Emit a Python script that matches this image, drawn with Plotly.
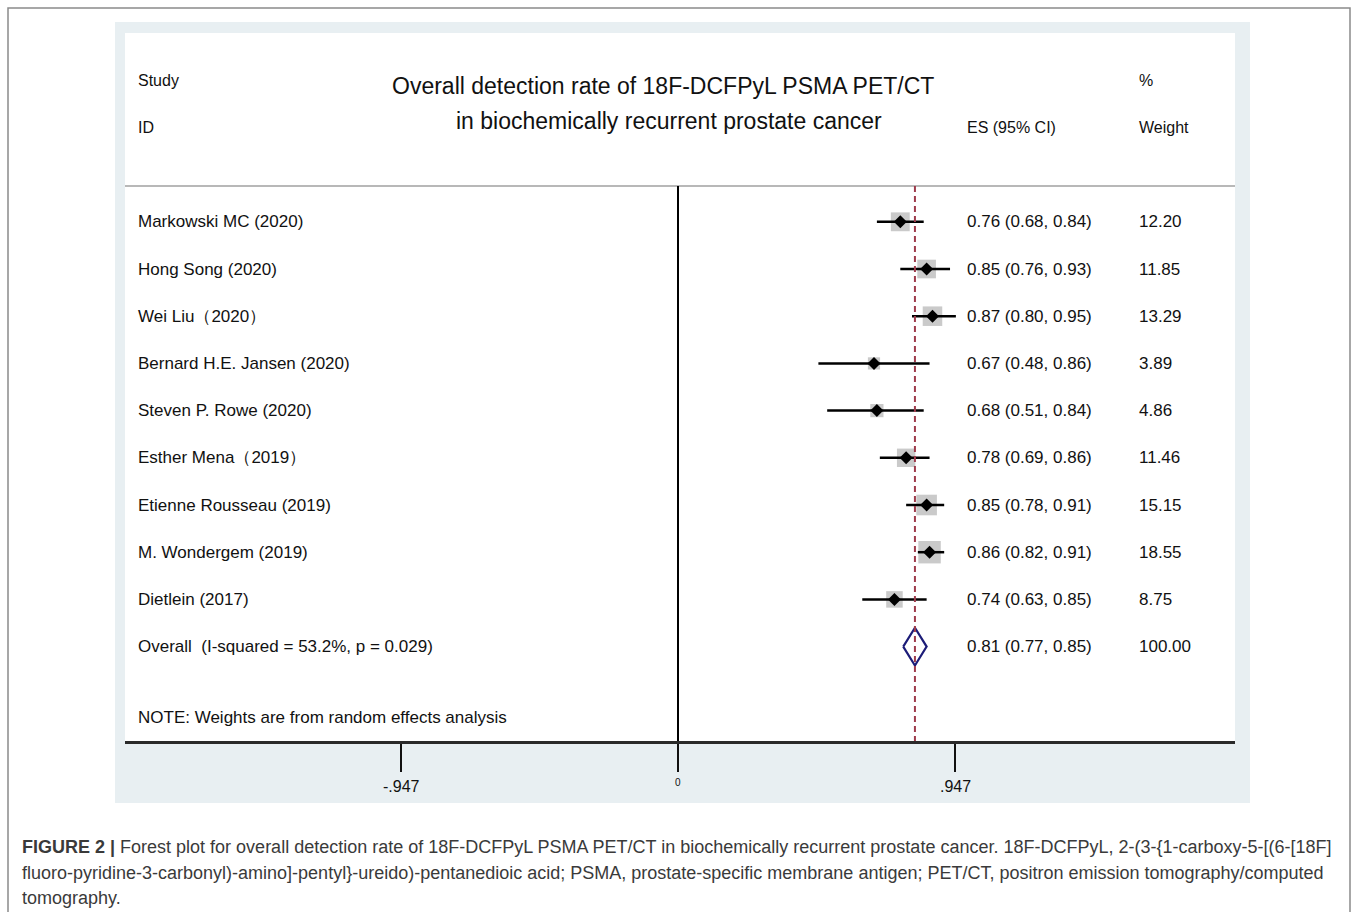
import numpy as np
import plotly.graph_objects as go

studies = ["Markowski MC (2020)", "Hong Song (2020)", "Wei Liu（2020）",
           "Bernard H.E. Jansen (2020)", "Steven P. Rowe (2020)", "Esther Mena（2019）",
           "Etienne Rousseau (2019)", "M. Wondergem (2019)", "Dietlein (2017)"]
es = [0.76, 0.85, 0.87, 0.67, 0.68, 0.78, 0.85, 0.86, 0.74]
lo = [0.68, 0.76, 0.80, 0.48, 0.51, 0.69, 0.78, 0.82, 0.63]
hi = [0.84, 0.93, 0.95, 0.86, 0.84, 0.86, 0.91, 0.91, 0.85]
weights = [12.20, 11.85, 13.29, 3.89, 4.86, 11.46, 15.15, 18.55, 8.75]
overall_label = "Overall\u00a0\u00a0(I-squared = 53.2%, p = 0.029)"
overall_es, overall_lo, overall_hi, overall_w = 0.81, 0.77, 0.85, 100.00
tick_vals = [-0.947, 0, 0.947]
tick_text = ["-.947", "0", ".947"]

W, H = 1358, 912
FONT = "Liberation Sans, Arial, sans-serif"

def px(x):
    return x / W

def py(y):
    return (H - y) / H

n = len(studies)
rows = [-i for i in range(n)]
overall_row = -n

es_a = np.array(es)
err_p = np.array(hi) - es_a
err_m = es_a - np.array(lo)
sizes = [3.5 + 4.4 * np.sqrt(w) for w in weights]

fig = go.Figure()
fig.add_trace(go.Scatter(x=es, y=rows, mode="markers",
                         marker=dict(symbol="square", size=sizes, color="#b3b3b3", line=dict(width=0)),
                         hoverinfo="skip", showlegend=False))
fig.add_trace(go.Scatter(x=es, y=rows, mode="markers",
                         marker=dict(symbol="diamond", size=10, color="black"),
                         error_x=dict(type="data", symmetric=False, array=err_p, arrayminus=err_m,
                                      width=0, thickness=2.5, color="black"),
                         showlegend=False))
dh = 0.4
fig.add_trace(go.Scatter(x=[overall_lo, overall_es, overall_hi, overall_es, overall_lo],
                         y=[overall_row, overall_row + dh, overall_row, overall_row - dh, overall_row],
                         mode="lines", line=dict(color="#1c1c78", width=2.2), showlegend=False))

x_left = (125 - 678) / 292.5
x_right = (1235 - 678) / 292.5

shapes = [
    dict(type="rect", xref="paper", yref="paper", x0=px(8), x1=px(1350), y0=py(930), y1=py(8),
         line=dict(color="#8a8a8a", width=1.5), fillcolor="white", layer="below"),
    dict(type="rect", xref="paper", yref="paper", x0=px(115), x1=px(1250), y0=py(803), y1=py(22),
         line=dict(width=0), fillcolor="#e8eff2", layer="below"),
    dict(type="rect", xref="paper", yref="paper", x0=px(125), x1=px(1235), y0=py(741), y1=py(33),
         line=dict(width=0), fillcolor="white", layer="below"),
    dict(type="line", xref="paper", yref="y", x0=px(125), x1=px(1235), y0=0.76, y1=0.76,
         line=dict(color="#a0a0a0", width=1.5)),
    dict(type="line", xref="x", yref="y", x0=0, x1=0, y0=0.76, y1=-11,
         line=dict(color="black", width=2)),
    dict(type="line", xref="x", yref="y", x0=overall_es, x1=overall_es, y0=0.76, y1=-11,
         line=dict(color="#9e3b4b", width=2, dash="6px,4px")),
]

ann = []
def t(text, x, y, size=17, xanchor="left", xref="paper", yref="y", color="#111", **kw):
    ann.append(dict(text=text, x=x, y=y, xref=xref, yref=yref, showarrow=False,
                    xanchor=xanchor, yanchor="middle", font=dict(family=FONT, size=size, color=color), **kw))

L1, L2, L3 = px(136), px(965), px(1137)
t("Study", L1, 3.0, size=16)
t("ID", L1, 2.0, size=16)
t("%", L3, 3.0, size=16)
t("Weight", L3, 2.0, size=16)
t("ES (95% CI)", L2, 2.0, size=16)
t("Overall detection rate of 18F-DCFPyL PSMA PET/CT", px(663), 2.88, size=23, xanchor="center")
t("in biochemically recurrent prostate cancer", px(669), 2.14, size=23, xanchor="center")

for i in range(n):
    t(studies[i], L1, rows[i])
    t(f"{es[i]:.2f} ({lo[i]:.2f}, {hi[i]:.2f})", L2, rows[i])
    t(f"{weights[i]:.2f}", L3, rows[i])
t(overall_label, L1, overall_row)
t(f"{overall_es:.2f} ({overall_lo:.2f}, {overall_hi:.2f})", L2, overall_row)
t(f"{overall_w:.2f}", L3, overall_row)
t("NOTE: Weights are from random effects analysis", L1, -10.5)

for v, s in zip(tick_vals, tick_text):
    t(s, v, py(786) if s != "0" else py(782), size=16 if s != "0" else 10,
      xanchor="center", xref="x", yref="paper")

cap_col = "#3a3a3a"
cap = [
    "<b>FIGURE 2 |</b> Forest plot for overall detection rate of 18F-DCFPyL PSMA PET/CT in biochemically recurrent prostate cancer. 18F-DCFPyL, 2-(3-{1-carboxy-5-[(6-[18F]",
    "fluoro-pyridine-3-carbonyl)-amino]-pentyl}-ureido)-pentanedioic acid; PSMA, prostate-specific membrane antigen; PET/CT, positron emission tomography/computed",
    "tomography.",
]
for k, line in enumerate(cap):
    t(line, px(20), py(847 + 25.5 * k), size=18, yref="paper", color=cap_col)

fig.update_layout(
    width=W, height=H, margin=dict(l=0, r=0, t=0, b=0),
    paper_bgcolor="white", plot_bgcolor="rgba(0,0,0,0)",
    shapes=shapes, annotations=ann, showlegend=False,
    xaxis=dict(domain=[px(125), px(1235)], range=[x_left, x_right], showgrid=False, zeroline=False,
               showline=True, linecolor="#2a2a2a", linewidth=2.5, ticks="outside", ticklen=28,
               tickwidth=2, tickcolor="#111", tickvals=tick_vals, showticklabels=False, fixedrange=True),
    yaxis=dict(domain=[py(741), py(33)], range=[-11, 4], visible=False, fixedrange=True),
)

fig.write_html("out.html", config={"displayModeBar": False},
               post_script="document.body.style.margin='0';document.body.style.overflow='hidden';")
